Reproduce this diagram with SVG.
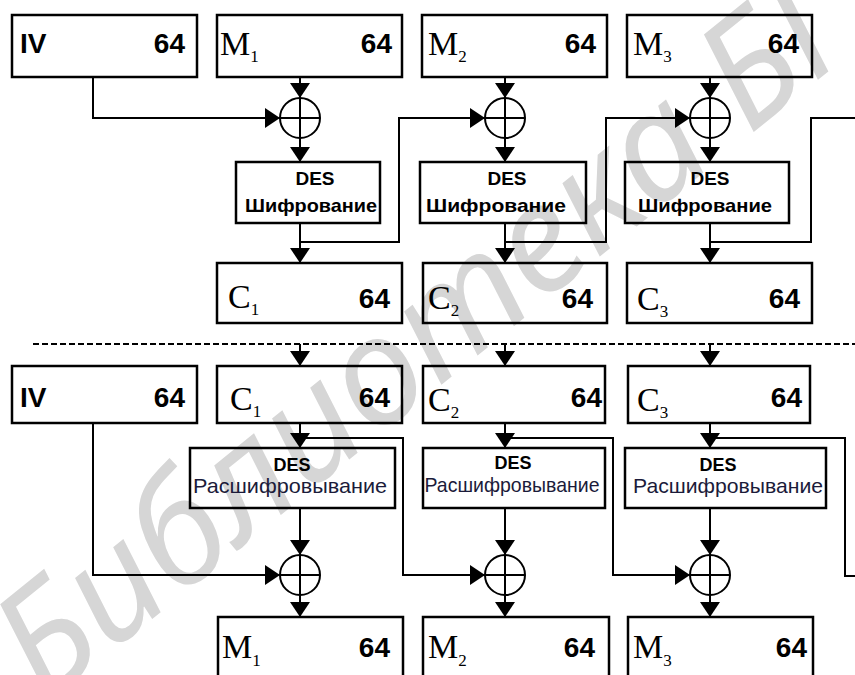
<svg xmlns="http://www.w3.org/2000/svg" width="855" height="675" viewBox="0 0 855 675">
<defs>
<marker id="ah" markerUnits="userSpaceOnUse" markerWidth="15" markerHeight="20" viewBox="0 0 15 20" refX="15" refY="10" orient="auto"><path d="M0,0 L15,10 L0,20 z" fill="#000"/></marker>
<style>
.box{fill:none;stroke:#000;stroke-width:2.5}
.ln{fill:none;stroke:#000;stroke-width:2}
.arr{fill:none;stroke:#000;stroke-width:2;marker-end:url(#ah)}
.dash{fill:none;stroke:#000;stroke-width:2;stroke-dasharray:6 3}
.xc{fill:none;stroke:#000;stroke-width:2}
.sans{font-family:"Liberation Sans",Arial,sans-serif;font-weight:bold;font-size:28px}
.end{text-anchor:end}
.ser{font-family:"Liberation Serif","Times New Roman",serif;font-size:34px}
.sub{font-size:17px}
.des{font-family:"Liberation Sans",Arial,sans-serif;font-weight:bold;font-size:19px;text-anchor:middle}
.desd{font-family:"Liberation Sans",Arial,sans-serif;font-weight:bold;font-size:18px;text-anchor:middle}
.dec{font-family:"Liberation Sans",Arial,sans-serif;font-size:21px;text-anchor:middle;fill:#1b1b3a}
.wm{font-family:"Noto Sans","Open Sans",sans-serif;font-style:italic;font-size:150px;fill:#d6d6d6}
</style>
</defs>
<rect width="855" height="675" fill="#fff"/>
<text class="wm" transform="translate(46,705) rotate(-39)">Библиотека БГ</text>

<!-- Encryption row -->
<g id="iv_enc"><rect class="box" x="12" y="15" width="185" height="62"/><text class="sans" x="20" y="53">IV</text><text class="sans end" x="185" y="53">64</text></g>
<g id="m1_in"><rect class="box" x="217" y="15" width="185" height="62"/><text class="ser" x="220" y="55">M<tspan class="sub" dy="7">1</tspan></text><text class="sans end" x="392" y="53">64</text></g>
<g id="m2_in"><rect class="box" x="422" y="15" width="185" height="62"/><text class="ser" x="428" y="55">M<tspan class="sub" dy="7">2</tspan></text><text class="sans end" x="596" y="53">64</text></g>
<g id="m3_in"><rect class="box" x="627" y="15" width="185" height="62"/><text class="ser" x="633" y="55">M<tspan class="sub" dy="7">3</tspan></text><text class="sans end" x="799" y="53">64</text></g>

<g id="xor_e1"><circle class="xc" cx="300" cy="118" r="20"/><path class="xc" d="M280,118 H320 M300,98 V138"/></g>
<g id="xor_e2"><circle class="xc" cx="505" cy="118" r="20"/><path class="xc" d="M485,118 H525 M505,98 V138"/></g>
<g id="xor_e3"><circle class="xc" cx="710" cy="118" r="20"/><path class="xc" d="M690,118 H730 M710,98 V138"/></g>

<g id="des_e1"><rect class="box" x="236" y="162" width="144" height="61"/><text class="des" x="315" y="185">DES</text><text class="des" x="311" y="212" textLength="132" lengthAdjust="spacingAndGlyphs">Шифрование</text></g>
<g id="des_e2"><rect class="box" x="420" y="162" width="166" height="61"/><text class="des" x="507" y="185">DES</text><text class="des" x="496" y="212" textLength="140" lengthAdjust="spacingAndGlyphs">Шифрование</text></g>
<g id="des_e3"><rect class="box" x="625" y="162" width="164" height="61"/><text class="des" x="710" y="185">DES</text><text class="des" x="705" y="212" textLength="134" lengthAdjust="spacingAndGlyphs">Шифрование</text></g>

<g id="c1_out"><rect class="box" x="217" y="263" width="185" height="60"/><text class="ser" x="228" y="308">C<tspan class="sub" dy="7">1</tspan></text><text class="sans end" x="390" y="308">64</text></g>
<g id="c2_out"><rect class="box" x="423" y="263" width="184" height="60"/><text class="ser" x="428" y="309">C<tspan class="sub" dy="7">2</tspan></text><text class="sans end" x="593" y="308">64</text></g>
<g id="c3_out"><rect class="box" x="627" y="263" width="185" height="60"/><text class="ser" x="637" y="310">C<tspan class="sub" dy="7">3</tspan></text><text class="sans end" x="800" y="308">64</text></g>

<!-- Decryption row -->
<g id="iv_dec"><rect class="box" x="12" y="366" width="185" height="57"/><text class="sans" x="20" y="407">IV</text><text class="sans end" x="185" y="407">64</text></g>
<g id="c1_in"><rect class="box" x="217" y="366" width="185" height="57"/><text class="ser" x="230" y="410">C<tspan class="sub" dy="7">1</tspan></text><text class="sans end" x="390" y="407">64</text></g>
<g id="c2_in"><rect class="box" x="423" y="366" width="182" height="57"/><text class="ser" x="428" y="411">C<tspan class="sub" dy="7">2</tspan></text><text class="sans end" x="602" y="407">64</text></g>
<g id="c3_in"><rect class="box" x="628" y="366" width="182" height="57"/><text class="ser" x="637" y="411">C<tspan class="sub" dy="7">3</tspan></text><text class="sans end" x="802" y="407">64</text></g>

<g id="des_d1"><rect class="box" x="190" y="448" width="205" height="60"/><text class="desd" x="292" y="471">DES</text><text class="dec" x="290" y="493" textLength="194" lengthAdjust="spacingAndGlyphs">Расшифровывание</text></g>
<g id="des_d2"><rect class="box" x="423" y="448" width="182" height="60"/><text class="desd" x="513" y="469">DES</text><text class="dec" x="512" y="492" textLength="175" lengthAdjust="spacingAndGlyphs">Расшифровывание</text></g>
<g id="des_d3"><rect class="box" x="625" y="448" width="201" height="60"/><text class="desd" x="718" y="471">DES</text><text class="dec" x="728" y="493" textLength="190" lengthAdjust="spacingAndGlyphs">Расшифровывание</text></g>

<g id="xor_d1"><circle class="xc" cx="300" cy="575" r="20"/><path class="xc" d="M280,575 H320 M300,555 V595"/></g>
<g id="xor_d2"><circle class="xc" cx="505" cy="575" r="20"/><path class="xc" d="M485,575 H525 M505,555 V595"/></g>
<g id="xor_d3"><circle class="xc" cx="710" cy="575" r="20"/><path class="xc" d="M690,575 H730 M710,555 V595"/></g>

<g id="m1_out"><rect class="box" x="218" y="617" width="185" height="70"/><text class="ser" x="222" y="658">M<tspan class="sub" dy="8">1</tspan></text><text class="sans end" x="390" y="657">64</text></g>
<g id="m2_out"><rect class="box" x="423" y="617" width="186" height="70"/><text class="ser" x="428" y="658">M<tspan class="sub" dy="8">2</tspan></text><text class="sans end" x="595" y="657">64</text></g>
<g id="m3_out"><rect class="box" x="628" y="617" width="185" height="70"/><text class="ser" x="633" y="658">M<tspan class="sub" dy="8">3</tspan></text><text class="sans end" x="807" y="657">64</text></g>

<g id="connectors">
<path class="arr" d="M300,77 V98"/>
<path class="arr" d="M505,77 V98"/>
<path class="arr" d="M710,77 V98"/>
<path class="arr" d="M93,77 V118 H280"/>
<path class="arr" d="M300,138 V162"/>
<path class="arr" d="M505,138 V162"/>
<path class="arr" d="M710,138 V162"/>
<path class="arr" d="M300,223 V263"/>
<path class="arr" d="M505,223 V263"/>
<path class="arr" d="M710,223 V263"/>
<path class="arr" d="M300,242 H399 V118 H485"/>
<path class="arr" d="M505,242 H606 V118 H690"/>
<path class="ln" d="M710,242 H811 V118 H855"/>
<path class="dash" d="M33,344 H855"/>
<path class="arr" d="M300,344 V366"/>
<path class="arr" d="M505,344 V366"/>
<path class="arr" d="M710,344 V366"/>
<path class="arr" d="M300,423 V448"/>
<path class="arr" d="M505,423 V448"/>
<path class="arr" d="M710,423 V448"/>
<path class="arr" d="M300,438 H403 V575 H485"/>
<path class="arr" d="M505,438 H613 V575 H690"/>
<path class="ln" d="M710,438 H845 V576 H855"/>
<path class="arr" d="M93,423 V575 H280"/>
<path class="arr" d="M300,508 V555"/>
<path class="arr" d="M505,508 V555"/>
<path class="arr" d="M710,508 V555"/>
<path class="arr" d="M300,595 V617"/>
<path class="arr" d="M505,595 V617"/>
<path class="arr" d="M710,595 V617"/>
</g>
</svg>
